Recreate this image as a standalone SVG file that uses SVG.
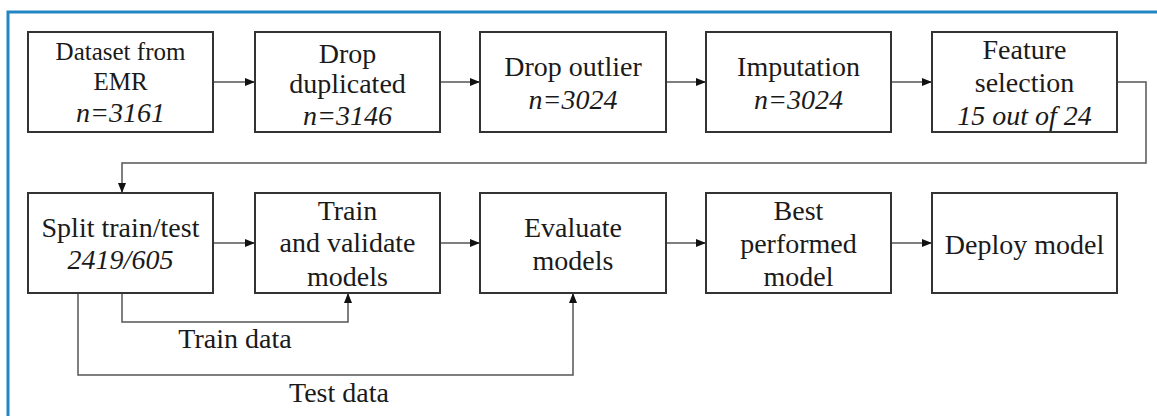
<svg xmlns="http://www.w3.org/2000/svg" width="1157" height="416" viewBox="0 0 1157 416">
<style>
.box{fill:#fff;stroke:#333;stroke-width:2}
text{font-family:"Liberation Serif","Times New Roman",serif}
.t{font-family:"Liberation Serif","Times New Roman",serif;font-size:28px;fill:#1a1a1a;text-anchor:middle}
.s{font-size:25px}
.i{font-style:italic}
.c{fill:none;stroke:#555;stroke-width:1.5}
</style>
<defs>
<marker id="ah" viewBox="0 0 10 10" refX="10" refY="5" markerWidth="10" markerHeight="10" markerUnits="userSpaceOnUse" orient="auto">
<path d="M0,1 L10,5 L0,9 Z" fill="#111"/>
</marker>
</defs>
<rect x="0" y="0" width="1157" height="416" fill="#fff"/>
<path d="M8,416 V12 H1157" fill="none" stroke="#2386c4" stroke-width="3"/>
<g id="connectors" font-family="Liberation Serif, serif">
<line class="c" x1="213" y1="82" x2="255" y2="82" marker-end="url(#ah)"/>
<line class="c" x1="440" y1="82" x2="480" y2="82" marker-end="url(#ah)"/>
<line class="c" x1="666" y1="82" x2="706" y2="82" marker-end="url(#ah)"/>
<line class="c" x1="891" y1="82" x2="932" y2="82" marker-end="url(#ah)"/>
<path class="c" d="M1117,82 H1146 V163 H122 V193" marker-end="url(#ah)"/>
<line class="c" x1="213" y1="243" x2="255" y2="243" marker-end="url(#ah)"/>
<line class="c" x1="440" y1="243" x2="480" y2="243" marker-end="url(#ah)"/>
<line class="c" x1="666" y1="243" x2="706" y2="243" marker-end="url(#ah)"/>
<line class="c" x1="891" y1="243" x2="932" y2="243" marker-end="url(#ah)"/>
<path class="c" d="M122,293 V322 H348 V293" marker-end="url(#ah)"/>
<path class="c" d="M78,293 V375 H573 V293" marker-end="url(#ah)"/>
<text class="t" x="235" y="348">Train data</text>
<text class="t" x="339" y="402">Test data</text>
</g>
<g id="n1" font-family="Liberation Serif, serif">
<rect class="box" x="28" y="32" width="185" height="100"/>
<text class="t s" x="120.5" y="60">Dataset from</text>
<text class="t s" x="120.5" y="90">EMR</text>
<text class="t i" x="120.5" y="122">n=3161</text>
</g>
<g id="n2" font-family="Liberation Serif, serif">
<rect class="box" x="255" y="32" width="185" height="100"/>
<text class="t" x="347.5" y="63">Drop</text>
<text class="t" x="347.5" y="93">duplicated</text>
<text class="t i" x="347.5" y="125">n=3146</text>
</g>
<g id="n3" font-family="Liberation Serif, serif">
<rect class="box" x="480" y="32" width="186" height="100"/>
<text class="t" x="573" y="76">Drop outlier</text>
<text class="t i" x="573" y="109">n=3024</text>
</g>
<g id="n4" font-family="Liberation Serif, serif">
<rect class="box" x="706" y="32" width="185" height="100"/>
<text class="t" x="798.5" y="76">Imputation</text>
<text class="t i" x="798.5" y="109">n=3024</text>
</g>
<g id="n5" font-family="Liberation Serif, serif">
<rect class="box" x="932" y="32" width="185" height="100"/>
<text class="t" x="1024.5" y="59">Feature</text>
<text class="t" x="1024.5" y="92">selection</text>
<text class="t i" x="1024.5" y="125">15 out of 24</text>
</g>
<g id="n6" font-family="Liberation Serif, serif">
<rect class="box" x="28" y="193" width="185" height="100"/>
<text class="t" x="120.5" y="237">Split train/test</text>
<text class="t i" x="120.5" y="269">2419/605</text>
</g>
<g id="n7" font-family="Liberation Serif, serif">
<rect class="box" x="255" y="193" width="185" height="100"/>
<text class="t" x="347.5" y="220">Train</text>
<text class="t" x="347.5" y="252">and validate</text>
<text class="t" x="347.5" y="286">models</text>
</g>
<g id="n8" font-family="Liberation Serif, serif">
<rect class="box" x="480" y="193" width="186" height="100"/>
<text class="t" x="573" y="237">Evaluate</text>
<text class="t" x="573" y="270">models</text>
</g>
<g id="n9" font-family="Liberation Serif, serif">
<rect class="box" x="706" y="193" width="185" height="100"/>
<text class="t" x="798.5" y="220">Best</text>
<text class="t" x="798.5" y="253">performed</text>
<text class="t" x="798.5" y="286">model</text>
</g>
<g id="n10" font-family="Liberation Serif, serif">
<rect class="box" x="932" y="193" width="185" height="100"/>
<text class="t" x="1024.5" y="254">Deploy model</text>
</g>
</svg>
